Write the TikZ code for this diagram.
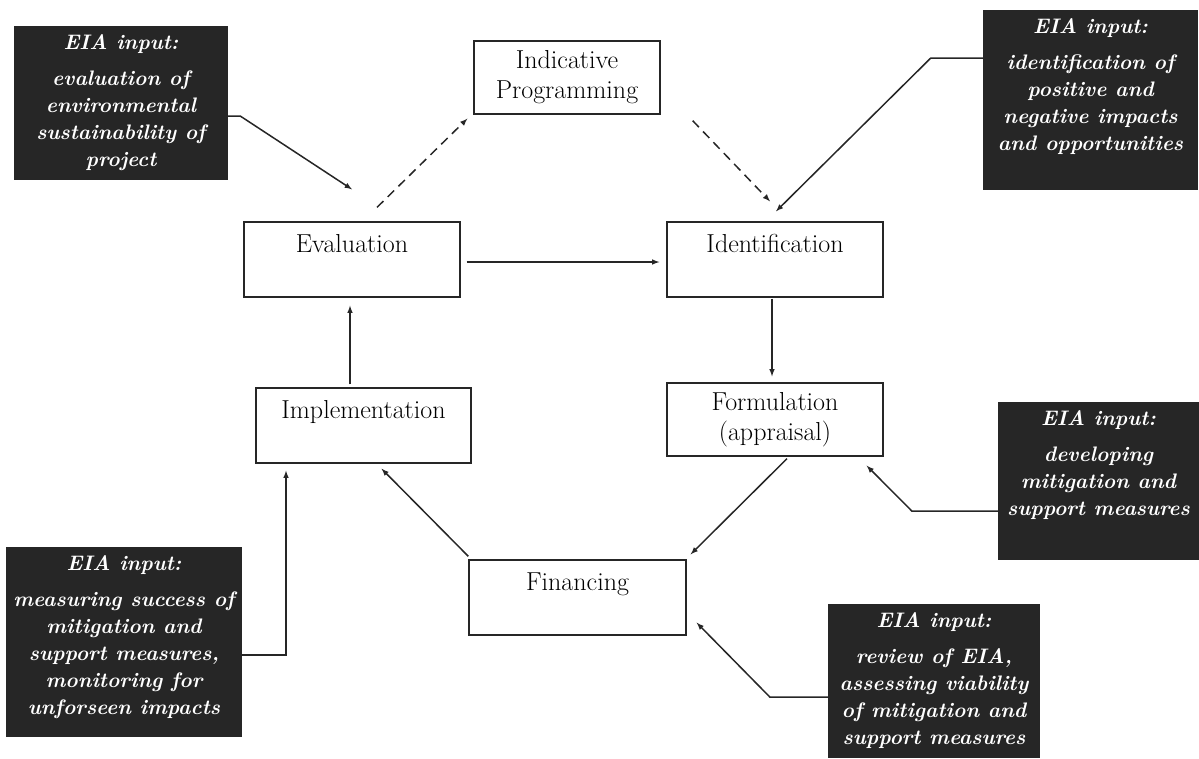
\documentclass[tikz,border=0pt]{standalone}
\usepackage{tikz}
\usetikzlibrary{arrows,arrows.meta}
\tikzset{>=latex}
\usepackage{xcolor}
\colorlet{eiacol}{black!85}
\colorlet{linecol}{black!85}
\tikzstyle{stage}=[draw=linecol,line width=1.3pt,rectangle,inner sep=0pt,minimum width=216pt,font=\fontsize{26}{30}\selectfont]
\tikzstyle{stage one}=[stage,text height=30pt,text depth=45pt]
\tikzstyle{stage two}=[stage,align=center,minimum height=73pt]
\tikzstyle{eia}=[fill=eiacol,text=white,inner sep=0pt,font=\fontsize{21}{27}\selectfont\bfseries\itshape]
\tikzstyle{link}=[->,line width=1.5pt,color=linecol]
\tikzstyle{dashlink}=[link,dash pattern=on 9pt off 6pt]
\newcommand{\eiatext}[3]{\parbox[c][#1][t]{#2}{\centering\vspace*{9pt}EIA input:\\[9pt]#3}}

\begin{document}
\begin{tikzpicture}[x=1pt,y=-1pt]
    \useasboundingbox (0,0) rectangle (1199,758);

    \node[stage two,minimum width=186pt] (indic) at (567,77.5) {Indicative\\Programming};
    \node[stage one] (eval) at (352,259.5) {Evaluation};
    \node[stage one] (ident) at (775,259.5) {Identification};
    \node[stage one,minimum width=215pt] (impl) at (363.5,425.5) {Implementation};
    \node[stage two] (form) at (775,419.5) {Formulation\\(appraisal)};
    \node[stage one,minimum width=217pt] (fin) at (577.5,597.5) {Financing};

    \node[eia] (eia1) at (121,103) {\eiatext{154pt}{214pt}{evaluation of\\environmental\\sustainability of\\project}};
    \node[eia] (eia2) at (1090.5,100) {\eiatext{180pt}{215pt}{identification of\\positive and\\negative impacts\\and opportunities}};
    \node[eia] (eia3) at (1098.5,481) {\eiatext{158pt}{201pt}{developing\\mitigation and\\support measures}};
    \node[eia] (eia4) at (124,642) {\eiatext{190pt}{236pt}{measuring success of\\mitigation and\\support measures,\\monitoring for\\unforseen impacts}};
    \node[eia] (eia5) at (934,681) {\eiatext{154pt}{212pt}{review of EIA,\\assessing viability\\of mitigation and\\support measures}};

    \draw[link] ([yshift=-13pt]eia1.east) -- ++(12,0) -- ([yshift=32pt]eval.north);
    \draw[dashlink] ([xshift=25pt,yshift=14pt]eval.north) -- ([xshift=-6pt,yshift=-4pt]indic.south west);
    \draw[dashlink] ([xshift=32pt,yshift=-6pt]indic.south east) -- ([xshift=-5pt,yshift=20pt]ident.north);
    \draw[link] ([yshift=42pt]eia2.west) -- ++(-52,0) -- ([xshift=1pt,yshift=10pt]ident.north);
    \draw[link] ([xshift=6pt,yshift=-2.5pt]eval.east) -- ([xshift=-7pt,yshift=-2.5pt]ident.west);
    \draw[link] ([xshift=-3pt,yshift=-1pt]ident.south) -- ([xshift=-3pt,yshift=6pt]form.north);
    \draw[link] ([xshift=12pt,yshift=-2pt]form.south) -- ([xshift=4pt,yshift=5pt]fin.north east);
    \draw[link] ([yshift=-30pt]eia3.west) -- ++(-86,0) -- ([xshift=-17pt,yshift=-9pt]form.south east);
    \draw[link] ([yshift=-16pt]eia5.west) -- ++(-58,0) -- ([xshift=10pt,yshift=13pt]fin.south east);
    \draw[link] ([yshift=3pt]fin.north west) -- ([xshift=18pt,yshift=-5pt]impl.south);
    \draw[link] ([yshift=-13pt]eia4.east) -| ([xshift=-77.5pt,yshift=-7pt]impl.south);
    \draw[link] ([xshift=-13.5pt,yshift=3pt]impl.north) -- ([xshift=-2pt,yshift=-8pt]eval.south);

\end{tikzpicture}
\end{document}
